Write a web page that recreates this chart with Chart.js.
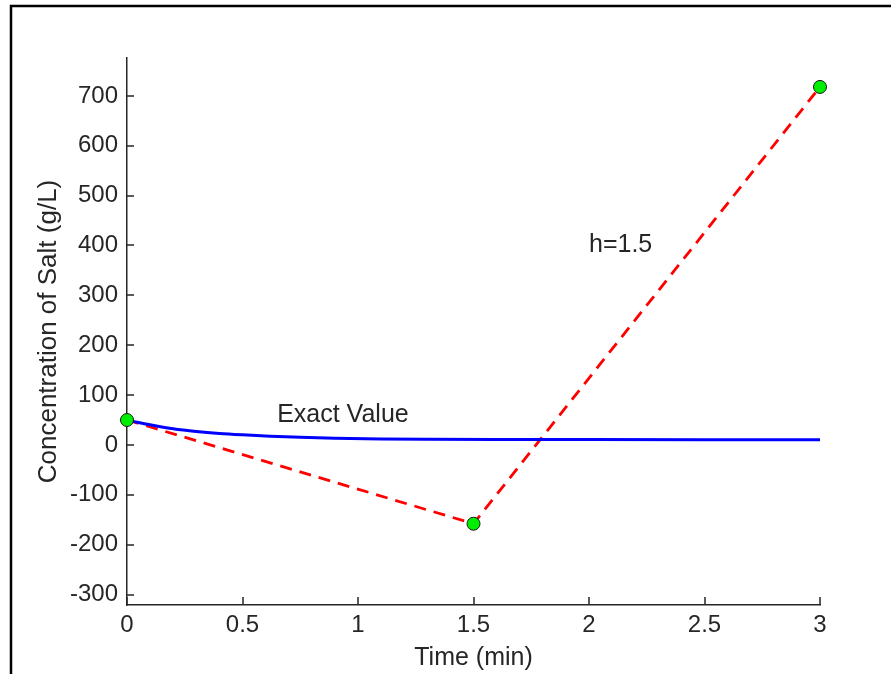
<!DOCTYPE html>
<html>
<head>
<meta charset="utf-8">
<title>Concentration of Salt</title>
<script src="https://cdn.jsdelivr.net/npm/chart.js@4.4.1/dist/chart.umd.min.js"></script>
<style>
  html, body { margin: 0; padding: 0; background: #fff; }
  #wrap { width: 891px; height: 674px; }
</style>
</head>
<body>
<div id="wrap"><canvas id="chart1" width="891" height="674"></canvas></div>
<script>
// exact solution
var exactTime = [0, 0.05, 0.1, 0.2, 0.3, 0.4, 0.5, 0.62, 0.75, 0.9, 1.1, 1.3, 1.6, 2, 2.5, 3];
var exactConc = [50, 45, 40.5, 32.5, 27, 23, 20.2, 17.5, 15.2, 13.3, 12, 11.4, 11, 10.8, 10.6, 10.5];

// euler steps, h=1.5
var eulerTime = [0, 1.5, 3];
var eulerConc = [50, -158, 718];

var xTicks = [0, 0.5, 1, 1.5, 2, 2.5, 3];
var yTicks = [-300, -200, -100, 0, 100, 200, 300, 400, 500, 600, 700];

var noteText = ["Exact Value", "h=1.5"];
var noteX = [0.65, 2.0];
var noteY = [60, 400];

var textColor = "#262626";
var fontFamily = "'Liberation Sans', Arial, sans-serif";

function toPoints(xs, ys) {
  return xs.map(function (x, i) { return { x: x, y: ys[i] }; });
}

// outer figure frame
var framePlugin = {
  id: "frame",
  beforeDraw: function (chart) {
    var ctx = chart.ctx;
    ctx.save();
    ctx.fillStyle = "#fff";
    ctx.fillRect(0, 0, chart.width, chart.height);
    ctx.strokeStyle = "#000";
    ctx.lineWidth = 2.5;
    ctx.beginPath();
    ctx.moveTo(11, chart.height + 5);
    ctx.lineTo(11, 6);
    ctx.lineTo(chart.width + 5, 6);
    ctx.stroke();
    ctx.restore();
  }
};

// inward tick marks + text notes
var extrasPlugin = {
  id: "extras",
  afterDraw: function (chart) {
    var ctx = chart.ctx;
    var x = chart.scales.x, y = chart.scales.y;
    var area = chart.chartArea;
    ctx.save();
    ctx.strokeStyle = textColor;
    ctx.lineWidth = 1.5;
    ctx.beginPath();
    x.ticks.forEach(function (t) {
      var px = Math.round(x.getPixelForValue(t.value));
      ctx.moveTo(px, area.bottom);
      ctx.lineTo(px, area.bottom - 8);
    });
    y.ticks.forEach(function (t) {
      var py = Math.round(y.getPixelForValue(t.value));
      ctx.moveTo(area.left, py);
      ctx.lineTo(area.left + 7, py);
    });
    ctx.stroke();

    ctx.fillStyle = textColor;
    ctx.font = "25px " + fontFamily;
    ctx.textAlign = "left";
    ctx.textBaseline = "middle";
    noteText.forEach(function (s, i) {
      ctx.fillText(s, x.getPixelForValue(noteX[i]), y.getPixelForValue(noteY[i]));
    });
    ctx.restore();
  }
};

var config1 = {
  type: "line",
  data: {
    datasets: [
      {
        label: "Euler points",
        data: toPoints(eulerTime, eulerConc),
        showLine: false,
        pointRadius: 6.5,
        pointBackgroundColor: "#00ee00",
        pointBorderColor: "#1a1a1a",
        pointBorderWidth: 1,
        order: 0,
        clip: false
      },
      {
        label: "Exact Value",
        data: toPoints(exactTime, exactConc),
        borderColor: "#0000ff",
        borderWidth: 3,
        pointRadius: 0,
        cubicInterpolationMode: "monotone",
        order: 1,
        clip: false
      },
      {
        label: "h=1.5",
        data: toPoints(eulerTime, eulerConc),
        borderColor: "#ff0000",
        borderWidth: 2.8,
        borderDash: [12, 8],
        pointRadius: 0,
        order: 2,
        clip: false
      }
    ]
  },
  options: {
    responsive: false,
    animation: false,
    events: [],
    layout: { padding: { left: 0, top: 58, right: 71, bottom: 0 } },
    plugins: {
      legend: { display: false },
      tooltip: { enabled: false }
    },
    scales: {
      x: {
        type: "linear",
        min: 0,
        max: 3,
        grid: { display: false, drawTicks: false },
        border: { display: true, color: textColor, width: 1.5 },
        afterBuildTicks: function (scale) {
          scale.ticks = xTicks.map(function (v) { return { value: v }; });
        },
        afterFit: function (scale) { scale.height = 69; },
        ticks: {
          color: textColor,
          font: { family: fontFamily, size: 24 },
          padding: 6,
          maxRotation: 0,
          autoSkip: false,
          callback: function (v) { return String(v); }
        },
        title: {
          display: true,
          text: "Time (min)",
          color: textColor,
          font: { family: fontFamily, size: 25 },
          padding: { top: 0, bottom: 1 }
        }
      },
      y: {
        type: "linear",
        min: -321,
        max: 776,
        grid: { display: false, drawTicks: false },
        border: { display: true, color: textColor, width: 1.5 },
        afterBuildTicks: function (scale) {
          scale.ticks = yTicks.map(function (v) { return { value: v }; });
        },
        afterFit: function (scale) { scale.width = 127; },
        ticks: {
          color: textColor,
          font: { family: fontFamily, size: 24 },
          padding: 9,
          autoSkip: false,
          callback: function (v) { return String(v); }
        },
        title: {
          display: true,
          text: "Concentration of Salt (g/L)",
          color: textColor,
          font: { family: fontFamily, size: 26 },
          padding: { top: 33, bottom: 0 }
        }
      }
    }
  },
  plugins: [framePlugin, extrasPlugin]
};

var ctx1 = document.getElementById("chart1").getContext("2d");
window.myChart = new Chart(ctx1, config1);
</script>
</body>
</html>
